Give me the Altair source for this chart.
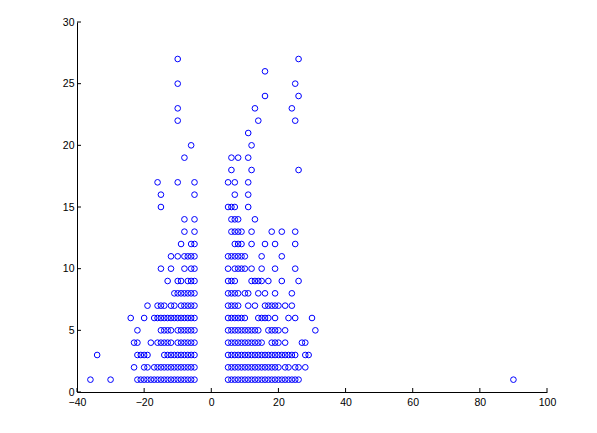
import altair as alt
import pandas as pd

# x values of the points, one list per integer y value
row_1 = [-36, -30] + list(range(-22, -4)) + list(range(5, 27)) + [90]
row_2 = [-23, -20, -19] + list(range(-17, -4)) + list(range(5, 21)) + [22, 23, 25, 26, 28]
row_3 = [-34, -22, -21, -20, -19] + list(range(-14, -4)) + list(range(5, 26)) + [28, 29]
row_4 = [-23, -22, -18, -16, -15, -14, -13, -12, -10, -9, -8, -7, -6, -5] + list(range(5, 16)) + [18, 19, 20, 22, 27, 28]
row_5 = [-22, -15, -14, -13, -12, -10, -9, -8, -7, -6, -5] + list(range(5, 15)) + [17, 18, 19, 20, 22, 31]
row_6 = [-24, -20] + list(range(-17, -4)) + list(range(5, 11)) + [14, 15, 16, 17, 19, 23, 25, 30]
row_7 = [-19, -16, -15, -14, -12, -11, -9, -8, -7, -6, -5, 5, 6, 7, 8, 11, 13, 16, 17, 18, 19, 20, 22, 24]
row_8 = [-11, -10, -9, -8, -7, -6, -5, 5, 6, 7, 8, 10, 11, 14, 16, 19, 24]
row_9 = [-13, -10, -9, -7, -6, -5, 5, 6, 7, 12, 13, 14, 15, 17, 21, 26]
row_10 = [-15, -12, -8, -6, -5, 5, 7, 8, 9, 10, 12, 15, 19, 25]
row_11 = [-12, -10, -8, -7, -6, -5, 5, 6, 7, 8, 9, 10, 15, 21]
row_12 = [-9, -6, -5, 7, 8, 9, 12, 16, 19, 25]
row_13 = [-8, -5, 6, 7, 8, 9, 12, 18, 21, 25]
row_14 = [-8, -5, 6, 7, 8, 13]
row_15 = [-15, 5, 6, 7, 11]
row_16 = [-15, -5, 7, 11]
row_17 = [-16, -10, -5, 5, 7, 11]
row_18 = [6, 12, 26]
row_19 = [-8, 6, 8, 11]
row_20 = [-6, 12]
row_21 = [11]
row_22 = [-10, 14, 25]
row_23 = [-10, 13, 24]
row_24 = [16, 26]
row_25 = [-10, 25]
row_26 = [16]
row_27 = [-10, 26]

rows = [row_1, row_2, row_3, row_4, row_5, row_6, row_7, row_8, row_9,
        row_10, row_11, row_12, row_13, row_14, row_15, row_16, row_17,
        row_18, row_19, row_20, row_21, row_22, row_23, row_24, row_25,
        row_26, row_27]

x_ticks = [-40, -20, 0, 20, 40, 60, 80, 100]
y_ticks = [0, 5, 10, 15, 20, 25, 30]

records = []
for i, r in enumerate(rows):
    for xv in r:
        records.append({"x": xv, "y": i + 1})
df = pd.DataFrame(records)

W, H = 470, 370
FONT = "Liberation Sans"

xscale = alt.Scale(domain=[-40, 100], nice=False, zero=False)
yscale = alt.Scale(domain=[0, 30], nice=False, zero=False)

xaxis = alt.Axis(values=x_ticks, ticks=False, grid=False, domainColor="#000000",
                 domainWidth=1, labelFont=FONT, labelFontSize=10.5, labelFlush=False,
                 labelColor="#000000", labelPadding=5, title=None)
yaxis = alt.Axis(values=y_ticks, ticks=False, grid=False, domainColor="#000000",
                 domainWidth=1, labelFont=FONT, labelFontSize=10.5, labelFlush=False,
                 labelColor="#000000", labelPadding=3, title=None)

points = alt.Chart(df).mark_point(
    shape="circle", filled=False, size=32, strokeWidth=1, color="#0000ff", opacity=1
).encode(
    x=alt.X("x:Q", scale=xscale, axis=xaxis),
    y=alt.Y("y:Q", scale=yscale, axis=yaxis),
)

xt = alt.Chart(pd.DataFrame({"t": x_ticks})).mark_rule(color="#000000", strokeWidth=1).encode(
    x=alt.X("t:Q", scale=xscale, axis=xaxis),
    y=alt.value(H),
    y2=alt.value(H - 4),
)
yt = alt.Chart(pd.DataFrame({"t": y_ticks})).mark_rule(color="#000000", strokeWidth=1).encode(
    y=alt.Y("t:Q", scale=yscale, axis=yaxis),
    x=alt.value(0),
    x2=alt.value(4),
)

chart = alt.layer(points, xt, yt).properties(
    width=W, height=H,
    autosize="none",
    padding={"left": 69, "top": 14, "right": 30, "bottom": 30},
    background="white",
).configure_view(stroke=None)

chart.save("out.html", embed_options={"renderer": "svg", "actions": False})
